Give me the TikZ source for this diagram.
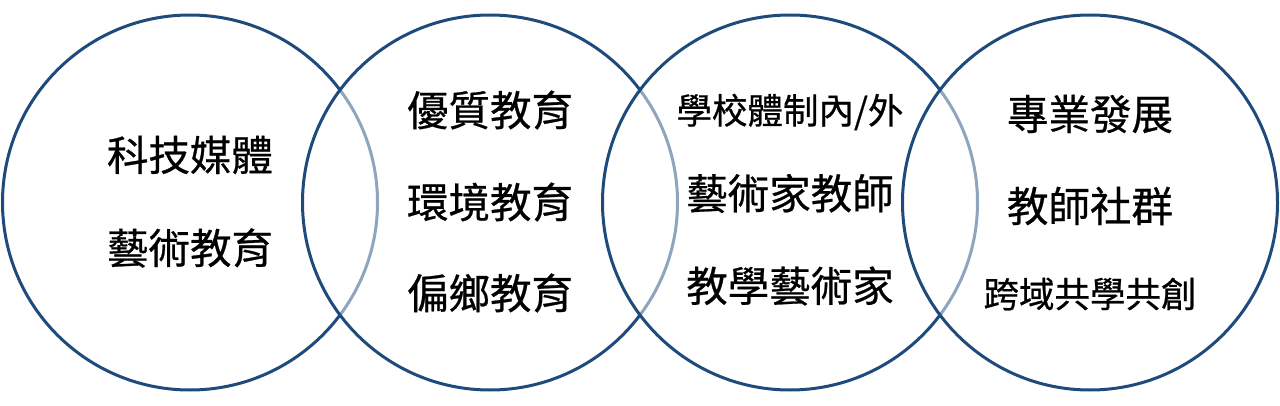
\documentclass[tikz,border=0pt]{standalone}
\usepackage{fontspec}
\newfontfamily\cjk{Noto Sans CJK TC}[FakeBold=0.6]
\definecolor{navy}{HTML}{1F4A7C}
\begin{document}
\begin{tikzpicture}[x=1pt,y=-1pt,
  ring/.style={circle,draw=navy,line width=3pt,fill=white,fill opacity=0.5,minimum size=375pt,inner sep=0pt},
  big/.style={font=\cjk\fontsize{41.5}{41.5}\selectfont,text=black,inner sep=0pt},
  small/.style={font=\cjk\fontsize{35.5}{35.5}\selectfont,text=black,inner sep=0pt}]
\useasboundingbox (0,0) rectangle (1280,406);
\node[ring] (c1) at (190,202.5) {};
\node[ring] (c2) at (490,202.5) {};
\node[ring] (c3) at (790,202.5) {};
\node[ring] (c4) at (1090,202.5) {};
% circle 1
\node[big] (t11) at (190,155) {科技媒體};
\node[big] (t12) at (190,248) {藝術教育};
% circle 2
\node[big] (t21) at (490,110) {優質教育};
\node[big] (t22) at (490,202) {環境教育};
\node[big] (t23) at (490,293) {偏鄉教育};
% circle 3
\node[small] (t31) at (790,112) {學校體制內/外};
\node[big] (t32) at (790,193.5) {藝術家教師};
\node[big] (t33) at (790,286) {教學藝術家};
% circle 4
\node[big] (t41) at (1090,114) {專業發展};
\node[big] (t42) at (1090,206) {教師社群};
\node[small] (t43) at (1090,294) {跨域共學共創};
\end{tikzpicture}
\end{document}
